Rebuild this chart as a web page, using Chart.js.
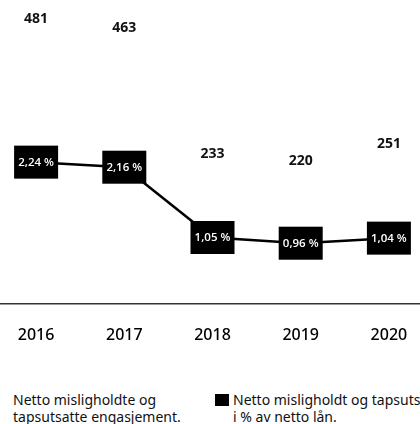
<!DOCTYPE html>
<html><head><meta charset="utf-8">
<script src="https://cdn.jsdelivr.net/npm/chart.js@4"></script>
<style>
html,body{margin:0;padding:0;width:420px;height:424px;overflow:hidden;background:#fff;position:relative;font-family:"Noto Sans",sans-serif;color:#111}
#wrap{position:absolute;left:-8px;top:0;width:441px;height:360px}
.leg{position:absolute;font-size:14px;line-height:17px;white-space:nowrap;color:#111}
.box{position:absolute;left:215px;top:394px;width:14px;height:12px;background:#000}
</style></head>
<body>
<div id="wrap"><canvas id="c" width="441" height="360"></canvas></div>
<div class="leg" style="left:13px;top:391px">Netto misligholdte og<br>tapsutsatte engasjement.</div>
<div class="box"></div>
<div class="leg" style="left:233px;top:391px">Netto misligholdt og tapsutsatte engasjement<br>i % av netto lån.</div>
<script>
const categories = ['2016','2017','2018','2019','2020'];
const engasjement = [481, 463, 233, 220, 251];
const prosent = [2.24, 2.16, 1.05, 0.96, 1.04];

const fmt = v => v.toFixed(2).replace('.', ',') + ' %';

const labelPlugin = {
  id: 'labels',
  afterDatasetsDraw(chart) {
    const ctx = chart.ctx;
    ctx.save();
    ctx.textAlign = 'center';
    ctx.textBaseline = 'middle';
    const barMeta = chart.getDatasetMeta(0);
    ctx.font = 'bold 14px "Noto Sans"';
    ctx.fillStyle = '#111';
    barMeta.data.forEach((el, i) => ctx.fillText(String(engasjement[i]), el.x, el.y - 22));
    const lineMeta = chart.getDatasetMeta(1);
    lineMeta.data.forEach((pt, i) => {
      ctx.fillStyle = '#000';
      ctx.fillRect(pt.x - 22, pt.y - 16.5, 44, 33);
      ctx.fillStyle = '#fff';
      ctx.font = '600 11.5px "Open Sans"';
      ctx.fillText(fmt(prosent[i]), pt.x, pt.y + 0.5);
    });
    ctx.restore();
  }
};

new Chart(document.getElementById('c'), {
  data: {
    labels: categories,
    datasets: [
      { type: 'bar', label: 'Netto misligholdte og tapsutsatte engasjement.', data: engasjement,
        backgroundColor: 'rgba(255,255,255,0)', borderWidth: 0, yAxisID: 'y', order: 1 },
      { type: 'line', label: 'Netto misligholdt og tapsutsatte engasjement i % av netto lån.', data: prosent,
        borderColor: '#000', backgroundColor: '#000', borderWidth: 2.5, pointRadius: 0, tension: 0,
        yAxisID: 'y1', order: 0 }
    ]
  },
  options: {
    responsive: false,
    devicePixelRatio: 1,
    animation: false,
    layout: { padding: 0 },
    plugins: { legend: { display: false }, tooltip: { enabled: false } },
    scales: {
      x: {
        grid: { display: false, drawTicks: false },
        border: { display: true, color: '#333', width: 1.5 },
        ticks: { color: '#000', font: { family: 'Noto Sans', size: 16, weight: '500' }, padding: 22 },
        afterFit(s) { s.height = 56; }
      },
      y: { display: false, min: 0, max: 555 },
      y1: { display: false, min: 0, max: 4.8 }
    }
  },
  plugins: [labelPlugin]
});
</script>
</body></html>
